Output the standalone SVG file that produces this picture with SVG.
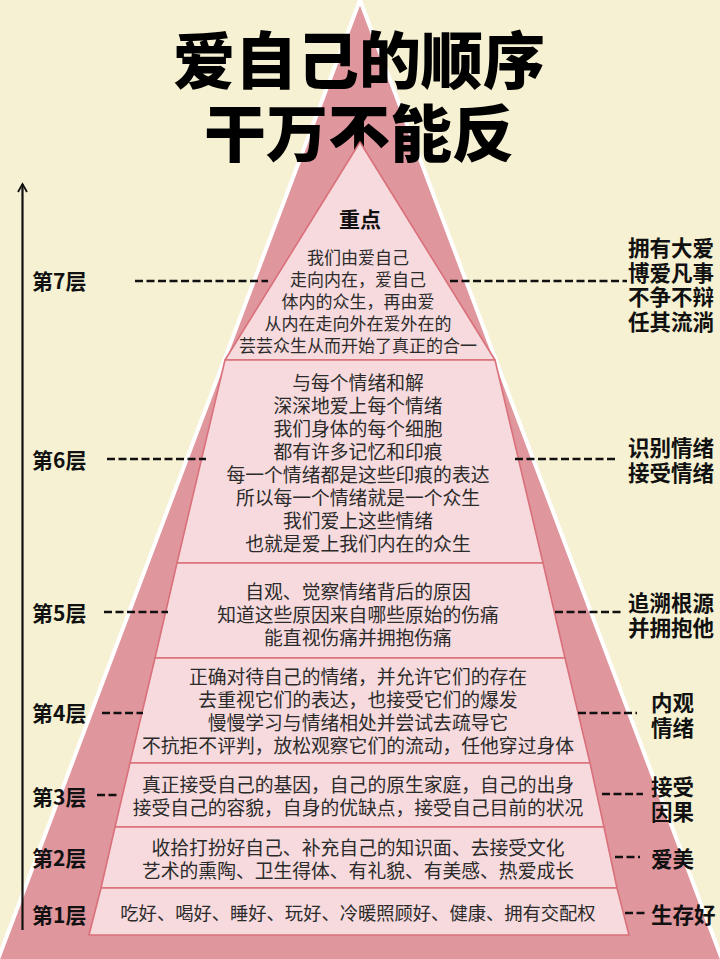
<svg xmlns="http://www.w3.org/2000/svg" width="720" height="959" viewBox="0 0 720 959">
<defs>
<style>
.bg{fill:#F6F1D2}
.outer{fill:#E0969D;stroke:#FFFFFF;stroke-width:4;stroke-linejoin:round}
.layer{fill:#F6DADD;stroke:#D9707A;stroke-width:1.6;stroke-linejoin:round}
.t{font-family:"Noto Sans CJK SC","Noto Sans",sans-serif;fill:#2b2b2b;text-anchor:middle;font-size:18.8px}
.t7{font-size:17px}
.t1{font-size:18.3px}
.hd{font-family:"Noto Sans CJK SC","Noto Sans",sans-serif;fill:#111;font-weight:700;font-size:21px;text-anchor:middle}
.title{font-family:"Noto Sans CJK SC","Noto Sans",sans-serif;fill:#000;font-weight:900;font-size:62px;text-anchor:middle}
.lab{font-family:"Noto Sans CJK SC","Noto Sans",sans-serif;fill:#111;font-weight:700;font-size:21px}
.rl{font-family:"Noto Sans CJK SC","Noto Sans",sans-serif;fill:#111;font-weight:700;font-size:21.5px}
.dash{stroke:#111;stroke-width:2.6;stroke-dasharray:8 3.5;fill:none}
.axis{stroke:#111;stroke-width:2.2;fill:none}
</style>
<marker id="arr" viewBox="0 0 12 12" refX="10" refY="6" markerWidth="12" markerHeight="12" markerUnits="userSpaceOnUse" orient="auto">
<path d="M2,1.5 L10,6 L2,10.5" fill="none" stroke="#111" stroke-width="1.8"/>
</marker>
</defs>
<rect class="bg" x="0" y="0" width="720" height="959"/>
<polygon class="outer" points="360,0 -3,962 723,962"/>

<g id="title">
<text class="title" x="359" y="84">爱自己的顺序</text>
<text class="title" x="359" y="157">干万不能反</text>
</g>

<g id="layer7">
<polygon class="layer" points="360,142 225,360 495,360"/>
<text class="hd" x="360" y="227">重点</text>
<text class="t t7" x="358" y="263.5"><tspan x="358">我们由爱自己</tspan><tspan x="358" dy="22">走向内在，爱自己</tspan><tspan x="358" dy="22">体内的众生，再由爱</tspan><tspan x="358" dy="22">从内在走向外在爱外在的</tspan><tspan x="358" dy="22">芸芸众生从而开始了真正的合一</tspan></text>
</g>

<g id="layer6">
<polygon class="layer" points="225,360 495,360 543,563 177,563"/>
<text class="t" x="358" y="390"><tspan x="358">与每个情绪和解</tspan><tspan x="358" dy="23">深深地爱上每个情绪</tspan><tspan x="358" dy="23">我们身体的每个细胞</tspan><tspan x="358" dy="23">都有许多记忆和印痕</tspan><tspan x="358" dy="23">每一个情绪都是这些印痕的表达</tspan><tspan x="358" dy="23">所以每一个情绪就是一个众生</tspan><tspan x="358" dy="23">我们爱上这些情绪</tspan><tspan x="358" dy="23">也就是爱上我们内在的众生</tspan></text>
</g>

<g id="layer5">
<polygon class="layer" points="177,563 543,563 565,658 155,658"/>
<text class="t" x="358" y="599"><tspan x="358">自观、觉察情绪背后的原因</tspan><tspan x="358" dy="23">知道这些原因来自哪些原始的伤痛</tspan><tspan x="358" dy="22.5">能直视伤痛并拥抱伤痛</tspan></text>
</g>

<g id="layer4">
<polygon class="layer" points="155,658 565,658 590,763 130,763"/>
<text class="t" x="358" y="684"><tspan x="358">正确对待自己的情绪，并允许它们的存在</tspan><tspan x="358" dy="23">去重视它们的表达，也接受它们的爆发</tspan><tspan x="358" dy="23">慢慢学习与情绪相处并尝试去疏导它</tspan><tspan x="358" dy="23">不抗拒不评判，放松观察它们的流动，任他穿过身体</tspan></text>
</g>

<g id="layer3">
<polygon class="layer" points="130,763 590,763 604,827 115,827"/>
<text class="t" x="358" y="792"><tspan x="358">真正接受自己的基因，自己的原生家庭，自己的出身</tspan><tspan x="358" dy="23">接受自己的容貌，自身的优缺点，接受自己目前的状况</tspan></text>
</g>

<g id="layer2">
<polygon class="layer" points="115,827 604,827 617,888 101,888"/>
<text class="t" x="358" y="855"><tspan x="358">收拾打扮好自己、补充自己的知识面、去接受文化</tspan><tspan x="358" dy="23">艺术的熏陶、卫生得体、有礼貌、有美感、热爱成长</tspan></text>
</g>

<g id="layer1">
<polygon class="layer" points="101,888 617,888 629,935 89,935"/>
<text class="t t1" x="358" y="920">吃好、喝好、睡好、玩好、冷暖照顾好、健康、拥有交配权</text>
</g>

<g id="left-labels">
<text class="lab" x="32" y="289">第7层</text>
<text class="lab" x="32" y="468">第6层</text>
<text class="lab" x="32" y="621">第5层</text>
<text class="lab" x="32" y="721">第4层</text>
<text class="lab" x="32" y="805">第3层</text>
<text class="lab" x="32" y="866">第2层</text>
<text class="lab" x="32" y="923">第1层</text>
</g>

<g id="right-labels">
<text class="rl" x="628" y="256"><tspan x="628">拥有大爱</tspan><tspan x="628" dy="24.7">博爱凡事</tspan><tspan x="628" dy="24.7">不争不辩</tspan><tspan x="628" dy="24.7">任其流淌</tspan></text>
<text class="rl" x="628" y="456"><tspan x="628">识别情绪</tspan><tspan x="628" dy="25">接受情绪</tspan></text>
<text class="rl" x="628" y="611"><tspan x="628">追溯根源</tspan><tspan x="628" dy="25">并拥抱他</tspan></text>
<text class="rl" x="651" y="711"><tspan x="651">内观</tspan><tspan x="651" dy="25">情绪</tspan></text>
<text class="rl" x="651" y="795"><tspan x="651">接受</tspan><tspan x="651" dy="25">因果</tspan></text>
<text class="rl" x="651" y="867">爱美</text>
<text class="rl" x="651" y="923">生存好</text>
</g>

<g id="connectors">
<line class="axis" x1="22.5" y1="930" x2="22.5" y2="184" marker-end="url(#arr)"/>
<line class="dash" x1="135" y1="281" x2="268" y2="281"/>
<line class="dash" x1="107" y1="459" x2="206" y2="459"/>
<line class="dash" x1="104" y1="612" x2="168" y2="612"/>
<line class="dash" x1="102" y1="713" x2="143" y2="713"/>
<line class="dash" x1="97" y1="795" x2="119" y2="795"/>
<line class="dash" x1="450" y1="281" x2="627" y2="281"/>
<line class="dash" x1="515" y1="459" x2="617" y2="459"/>
<line class="dash" x1="555" y1="612" x2="623" y2="612"/>
<line class="dash" x1="578" y1="713" x2="637" y2="713"/>
<line class="dash" x1="602" y1="794" x2="643" y2="794"/>
<line class="dash" x1="615" y1="857" x2="640" y2="857"/>
<line class="dash" x1="625" y1="913" x2="647" y2="913"/>
</g>
</svg>
